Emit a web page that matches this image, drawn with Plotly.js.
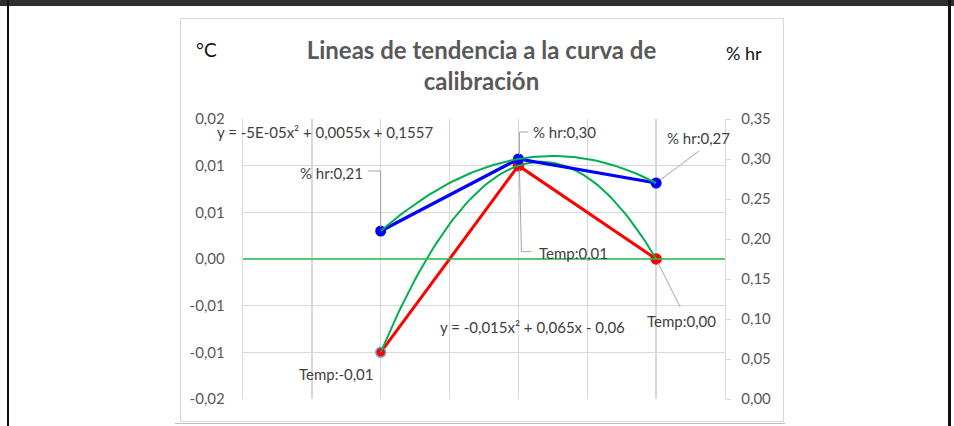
<!DOCTYPE html>
<html><head><meta charset="utf-8">
<script src="https://cdn.plot.ly/plotly-3.0.1.min.js"></script>
<style>
html,body{margin:0;padding:0;background:#fff;}
#wrap{position:relative;width:954px;height:426px;overflow:hidden;background:#fff;}
#chart{position:absolute;left:0;top:0;width:954px;height:426px;}
.deco{position:absolute;box-sizing:border-box;}
</style></head><body>
<div id="wrap">
 <div class="deco" style="left:0;top:0;width:954px;height:6px;background:#2e2e2e"></div>
 <div class="deco" style="left:7px;top:0;width:2px;height:426px;background:#111"></div>
 <div class="deco" style="left:948px;top:0;width:3px;height:426px;background:#111"></div>
 <div class="deco" style="left:180px;top:18px;width:604px;height:404px;border:1px solid #d9d9d9"></div>
 <div class="deco" style="left:175px;top:423px;width:610px;height:1px;background:#c0c0c0"></div>
 <div id="chart"></div>
</div>
<script>
// ---- data ----
const xPoints = [1, 2, 3];
const tempValues = [-0.01, 0.01, 0.00];
const hrValues = [0.21, 0.30, 0.27];
const tempName = 'Temp';
const hrName = '% hr';
const leftTickVals = [-0.015, -0.01, -0.005, 0, 0.005, 0.01, 0.015];
const leftTickText = ['-0,02', '-0,01', '-0,01', '0,00', '0,01', '0,01', '0,02'];
const rightTickVals = [0, 0.05, 0.10, 0.15, 0.20, 0.25, 0.30, 0.35];
const rightTickText = ['0,00', '0,05', '0,10', '0,15', '0,20', '0,25', '0,30', '0,35'];
const tempEquation = 'y = -0,015x² + 0,065x - 0,06';
const hrEquation = 'y = -5E-05x² + 0,0055x + 0,1557';
const chartTitle = 'Lineas de tendencia a la curva de<br>calibración';
const leftAxisTitle = '°C';
const rightAxisTitle = '% hr';

// ---- polynomial (order 2) least-squares trendline, like the spreadsheet trendline ----
function polyFit2(xs, ys) {
  let S = [0,0,0,0,0], T = [0,0,0];
  for (let i = 0; i < xs.length; i++) {
    let p = 1;
    for (let k = 0; k < 5; k++) { S[k] += p; if (k < 3) T[k] += p * ys[i]; p *= xs[i]; }
  }
  const A = [[S[0],S[1],S[2],T[0]],[S[1],S[2],S[3],T[1]],[S[2],S[3],S[4],T[2]]];
  for (let c = 0; c < 3; c++) {
    let piv = c; for (let r = c+1; r < 3; r++) if (Math.abs(A[r][c]) > Math.abs(A[piv][c])) piv = r;
    [A[c], A[piv]] = [A[piv], A[c]];
    for (let r = 0; r < 3; r++) if (r !== c) { const f = A[r][c] / A[c][c]; for (let k = c; k < 4; k++) A[r][k] -= f * A[c][k]; }
  }
  return [A[0][3]/A[0][0], A[1][3]/A[1][1], A[2][3]/A[2][2]]; // c0, c1, c2
}
function trend(xs, ys) {
  const c = polyFit2(xs, ys);
  const x0 = Math.min(...xs), x1 = Math.max(...xs), n = 80;
  const tx = [], ty = [];
  for (let i = 0; i <= n; i++) { const x = x0 + (x1 - x0) * i / n; tx.push(x); ty.push(c[0] + c[1]*x + c[2]*x*x); }
  return {x: tx, y: ty};
}
const fmt = v => (Math.abs(v) < 1e-12 ? 0 : v).toFixed(2).replace('.', ',');

const FONT = 'Lato, "Open Sans", sans-serif';
const RED = '#ff0000', BLUE = '#0000ff', GREEN = '#00b050';

const tTemp = trend(xPoints, tempValues);
const tHr = trend(xPoints, hrValues);

const traces = [
  {x: xPoints, y: tempValues, yaxis: 'y', mode: 'lines+markers', name: tempName,
   line: {color: RED, width: 3}, marker: {color: RED, size: 10, line: {color: ['#7fa7e0', RED, RED], width: 1.5}}},
  {x: tTemp.x, y: tTemp.y, yaxis: 'y', mode: 'lines', line: {color: GREEN, width: 2}, hoverinfo: 'skip'},
  {x: xPoints, y: hrValues, yaxis: 'y2', mode: 'lines+markers', name: hrName,
   line: {color: BLUE, width: 3.2}, marker: {color: BLUE, size: 11}},
  {x: tHr.x, y: tHr.y, yaxis: 'y2', mode: 'lines', line: {color: GREEN, width: 2}, hoverinfo: 'skip'}
];

// label placement (pixel offsets from each point)
const hrLabelPos = [{xa: 'right', dx: -16, dy: 58}, {xa: 'left', dx: 13, dy: 27}, {xa: 'center', dx: 42, dy: 45}];
const tempLabelPos = [{xa: 'center', dx: -44, dy: -22}, {xa: 'left', dx: 19, dy: -87}, {xa: 'center', dx: 25, dy: -62}];
const hrLeader = ['M -13,60 L 0,60 L 0,4', 'M 1,4 L 1,27 L 10,27', 'M 4,3 L 43,32'];
const tempLeader = [null, 'M 1,-4 L 3,-86 L 13,-86', 'M 2,-4 L 24,-48'];

const LBL = {family: FONT, size: 15, color: '#404040'};
const annotations = [];
const shapes = [
  {type: 'line', xref: 'paper', yref: 'y', x0: 0, x1: 1, y0: 0, y1: 0, line: {color: '#2ec24a', width: 1.5}, layer: 'above'}
];
xPoints.forEach((x, i) => {
  annotations.push({x: x, y: hrValues[i], xref: 'x', yref: 'y2', text: hrName + ':' + fmt(hrValues[i]),
    showarrow: false, xanchor: hrLabelPos[i].xa, yanchor: 'middle', xshift: hrLabelPos[i].dx, yshift: hrLabelPos[i].dy,
    font: LBL});
  annotations.push({x: x, y: tempValues[i], xref: 'x', yref: 'y', text: tempName + ':' + fmt(tempValues[i]),
    showarrow: false, xanchor: tempLabelPos[i].xa, yanchor: 'middle', xshift: tempLabelPos[i].dx, yshift: tempLabelPos[i].dy,
    font: LBL});
  if (hrLeader[i]) shapes.push({type: 'path', xref: 'x', yref: 'y2', xsizemode: 'pixel', ysizemode: 'pixel',
    xanchor: x, yanchor: hrValues[i], path: hrLeader[i], line: {color: '#a6a6a6', width: 1}, layer: 'above'});
  if (tempLeader[i]) shapes.push({type: 'path', xref: 'x', yref: 'y', xsizemode: 'pixel', ysizemode: 'pixel',
    xanchor: x, yanchor: tempValues[i], path: tempLeader[i], line: {color: '#a6a6a6', width: 1}, layer: 'above'});
});
annotations.push({xref: 'paper', yref: 'paper', x: 0.171, y: 0.954, text: hrEquation, showarrow: false,
  xanchor: 'center', yanchor: 'middle', font: LBL});
annotations.push({xref: 'paper', yref: 'paper', x: 0.5996, y: 0.257, text: tempEquation, showarrow: false,
  xanchor: 'center', yanchor: 'middle', font: LBL});
annotations.push({xref: 'paper', yref: 'paper', x: -0.0747, y: 1.25, text: leftAxisTitle, showarrow: false,
  xanchor: 'center', yanchor: 'middle', font: {family: FONT, size: 19, color: '#111'}});
annotations.push({xref: 'paper', yref: 'paper', x: 1.0394, y: 1.2357, text: rightAxisTitle, showarrow: false,
  xanchor: 'center', yanchor: 'middle', font: {family: FONT, size: 18, color: '#111'}});

const layout = {
  width: 954, height: 426,
  margin: {l: 243, r: 229, t: 119, b: 27, pad: 0},
  paper_bgcolor: 'rgba(0,0,0,0)', plot_bgcolor: 'rgba(0,0,0,0)',
  separators: ',.',
  showlegend: false,
  font: {family: FONT, size: 15, color: '#595959'},
  title: {text: chartTitle, font: {family: FONT, size: 24, color: '#595959', weight: 'bold'},
    x: 481.5/954, xref: 'container', xanchor: 'center', y: 1 - 59/426, yref: 'container', yanchor: 'top'},
  xaxis: {range: [0, 3.5], tick0: 0, dtick: 0.5, showgrid: true, gridcolor: '#d9d9d9', gridwidth: 1.3,
    showticklabels: false, zeroline: false, showline: false, ticks: '', fixedrange: true},
  yaxis: {range: [-0.0150001, 0.0150001], tickmode: 'array', tickvals: leftTickVals, ticktext: leftTickText,
    showgrid: true, gridcolor: '#d9d9d9', gridwidth: 1.3, zeroline: false,
    ticks: '', showline: true, linecolor: '#d9d9d9', linewidth: 1.3, ticklabelstandoff: 14,
    tickfont: {family: FONT, size: 15, color: '#595959'}},
  yaxis2: {overlaying: 'y', side: 'right', range: [-0.0000001, 0.3500001], tickmode: 'array',
    tickvals: rightTickVals, ticktext: rightTickText, showgrid: false, zeroline: false,
    showline: true, linecolor: '#d9d9d9', linewidth: 1.3, ticks: 'outside', ticklen: 5, tickcolor: '#d9d9d9',
    ticklabelstandoff: 7, tickfont: {family: FONT, size: 15, color: '#595959'}},
  annotations: annotations,
  shapes: shapes
};
Plotly.newPlot('chart', traces, layout, {displayModeBar: false, staticPlot: true});
</script>
</body></html>
